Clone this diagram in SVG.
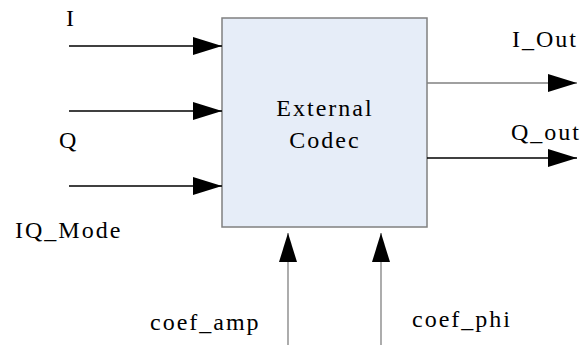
<svg xmlns="http://www.w3.org/2000/svg" width="582" height="345" viewBox="0 0 582 345">
<style>
text{font-family:'Liberation Serif','DejaVu Serif',serif;font-size:24px;letter-spacing:2px;fill:#000}
.blk{stroke:#000;stroke-width:1.3;fill:none}
.gry{stroke:#808080;stroke-width:1.3;fill:none}
.box{fill:#e6edf8;stroke:#808080;stroke-width:1.5}
</style>
<defs>
<marker id="ah" markerUnits="userSpaceOnUse" markerWidth="29" markerHeight="18" refX="29" refY="9" orient="auto" viewBox="0 0 29 18">
<path d="M0,0 L29,9 L0,18 z" fill="#000"/>
</marker>
</defs>
<rect width="582" height="345" fill="#fff"/>
<g id="codec">
<rect class="box" x="222" y="18" width="205" height="209"/>
<text x="325" y="116" text-anchor="middle" font-family="Liberation Serif, serif">External</text>
<text x="325" y="148" text-anchor="middle" font-family="Liberation Serif, serif">Codec</text>
</g>
<g id="connectors">
<line class="blk" x1="69" y1="46" x2="222" y2="46" marker-end="url(#ah)"/>
<line class="blk" x1="69" y1="111" x2="222" y2="111" marker-end="url(#ah)"/>
<line class="blk" x1="69" y1="186" x2="222" y2="186" marker-end="url(#ah)"/>
<line class="gry" x1="427" y1="83" x2="577" y2="83" marker-end="url(#ah)"/>
<line class="blk" x1="427" y1="158" x2="577" y2="158" marker-end="url(#ah)"/>
<line class="gry" x1="288" y1="345" x2="288" y2="233" marker-end="url(#ah)"/>
<line class="gry" x1="381" y1="345" x2="381" y2="233" marker-end="url(#ah)"/>
</g>
<g id="labels" font-family="Liberation Serif, serif">
<text x="66" y="26">I</text>
<text x="59" y="148">Q</text>
<text x="15" y="238">IQ_Mode</text>
<text x="512" y="47">I_Out</text>
<text x="511" y="140">Q_out</text>
<text x="150" y="330">coef_amp</text>
<text x="412" y="327">coef_phi</text>
</g>
</svg>
